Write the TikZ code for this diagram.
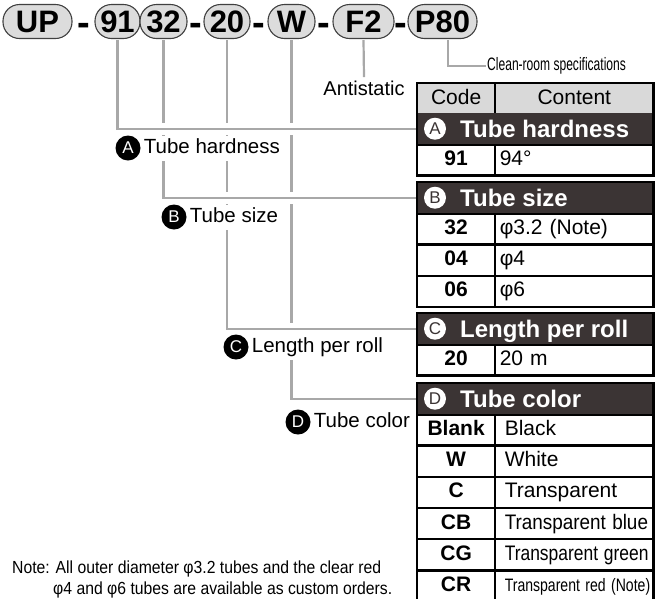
\documentclass[tikz,border=0pt]{standalone}
\usepackage{fontspec}
\setmainfont{Liberation Sans}
\usepackage{graphicx}
\usepackage{xcolor}
\usetikzlibrary{positioning}

\definecolor{pillgray}{HTML}{DCDCDC}
\definecolor{linegray}{HTML}{A8A8A8}
\definecolor{hdrdark}{HTML}{3B3434}
\definecolor{codegray}{HTML}{D9D9D9}

\newcommand{\fs}[1]{\fontsize{#1}{#1}\selectfont}

\tikzset{
  pill/.style={draw=black!75, fill=pillgray, line width=1.1pt, rounded corners=16.5pt,
    minimum height=34, inner sep=0, font=\fs{31}\bfseries},
  dashtxt/.style={inner sep=0, anchor=base, font=\fs{38}\bfseries},
  conn/.style={draw=linegray, line width=2.2pt, preaction={draw=white, line width=12pt}},
  lblcirc/.style={circle, fill=black, text=white, minimum size=25, inner sep=0, font=\fs{17}},
  lbltxt/.style={fill=white, inner xsep=2, inner ysep=3, text height=15, text depth=4, font=\fs{20.5}},
  cellc/.style={draw, line width=1.2pt, minimum width=77, minimum height=30, inner sep=0,
    text height=15, text depth=4, anchor=north west, font=\fs{21}\bfseries},
  cellt/.style={draw, line width=1.2pt, text width=149, inner xsep=4, inner ysep=0, minimum height=30,
    text height=15, text depth=4, align=left, anchor=north west, font=\fs{21}},
  celltD/.style={cellt, inner xsep=9, text width=139},
  hdr/.style={fill=hdrdark, minimum width=235, minimum height=31, inner sep=0, anchor=north west},
  hdtxt/.style={text=white, inner sep=0, anchor=base west, font=\fs{24}\bfseries},
  hdcirc/.style={circle, fill=white, text=hdrdark, minimum size=22, inner sep=0, font=\fs{17}},
  blockframe/.style={draw=black, line width=2.5pt}
}

\begin{document}
\begin{tikzpicture}[x=1pt, y=-1pt]
\useasboundingbox (0,0) rectangle (664,598);

% part number
\node[pill, minimum width=69] (pUP) at (37.5,21.5) {UP};
\node[dashtxt] (d1) at (83.5,35) {-};
\node[pill, minimum width=45] (p91) at (117.5,21.5) {91};
\node[pill, minimum width=47] (p32) at (163.5,21.5) {32};
\node[dashtxt] (d2) at (195.5,35) {-};
\node[pill, minimum width=46] (p20) at (227,21.5) {20};
\node[dashtxt] (d3) at (259,35) {-};
\node[pill, minimum width=47] (pW) at (291.5,21.5) {W};
\node[dashtxt] (d4) at (324,35) {-};
\node[pill, minimum width=61] (pF2) at (363.5,21.5) {F2};
\node[dashtxt] (d5) at (401,35) {-};
\node[pill, minimum width=69] (pP80) at (442.5,21.5) {P80};

\node[font=\fs{20}] (anti) at (364,88) {Antistatic};
\node[anchor=west, inner sep=1, font=\fs{18}] (clean) at (486,66) {\scalebox{0.67}[1]{Clean-room specifications}};

% table block A
\node[cellc, font=\fs{21}, fill=codegray] (hCode) at (417,83) {Code};
\node[cellt, align=center, fill=codegray, right=0pt of hCode] (hCont) {Content};
\node[hdr] (hdA) at (417,113) {};
\node[cellc] (a1) at (hdA.south west) {91};
\node[cellt, right=0pt of a1] (a1t) {94°};

% table block B
\node[hdr] (hdB) at (417,182) {};
\node[cellc] (b1) at (hdB.south west) {32};
\node[cellt, right=0pt of b1] (b1t) {φ3.2 (Note)};
\node[cellc] (b2) at (b1.south west) {04};
\node[cellt, right=0pt of b2] (b2t) {φ4};
\node[cellc] (b3) at (b2.south west) {06};
\node[cellt, right=0pt of b3] (b3t) {φ6};

% table block C
\node[hdr] (hdC) at (417,313) {};
\node[cellc] (c1) at (hdC.south west) {20};
\node[cellt, right=0pt of c1] (c1t) {20 m};

% table block D
\node[hdr] (hdD) at (417,383) {};
\node[cellc] (e1) at (hdD.south west) {Blank};
\node[celltD, right=0pt of e1] (e1t) {Black};
\node[cellc] (e2) at (e1.south west) {W};
\node[celltD, right=0pt of e2] (e2t) {White};
\node[cellc] (e3) at (e2.south west) {C};
\node[celltD, right=0pt of e3] (e3t) {Transparent};
\node[cellc] (e4) at (e3.south west) {CB};
\node[celltD, right=0pt of e4] (e4t) {\scalebox{0.9}[1]{Transparent blue}};
\node[cellc] (e5) at (e4.south west) {CG};
\node[celltD, right=0pt of e5] (e5t) {\scalebox{0.83}[1]{Transparent green}};
\node[cellc] (e6) at (e5.south west) {CR};
\node[celltD, right=0pt of e6] (e6t) {\fs{18}\scalebox{0.78}[1]{Transparent red (Note)}};

% connectors
\draw[conn] ([yshift=-1pt]pW.south) |- (hdD.west);
\draw[conn] ([yshift=-1pt]p20.south) |- (hdC.west);
\draw[conn] ([yshift=-1pt]p32.south) |- (hdB.west);
\draw[conn] ([yshift=-1pt]p91.south) |- (hdA.west);
\draw[conn] ([yshift=-1pt]pF2.south) -- (anti.north);
\draw[conn] ([xshift=5.5pt,yshift=-1pt]pP80.south) |- (clean.west);

% block frames
\draw[blockframe] (hCode.north west) rectangle (a1t.south east);
\draw[blockframe] (hdB.north west) rectangle (b3t.south east);
\draw[blockframe] (hdC.north west) rectangle (c1t.south east);
\draw[blockframe] (hdD.north west) rectangle (e6t.south east);

% header titles
\node[hdcirc] (hcA) at ([xshift=18pt]hdA.west) {A};
\node[hdtxt] (htA) at ([xshift=43pt,yshift=-8.6pt]hdA.west) {Tube hardness};
\node[hdcirc] (hcB) at ([xshift=18pt]hdB.west) {B};
\node[hdtxt] (htB) at ([xshift=43pt,yshift=-8.6pt]hdB.west) {Tube size};
\node[hdcirc] (hcC) at ([xshift=18pt]hdC.west) {C};
\node[hdtxt] (htC) at ([xshift=43pt,yshift=-8.6pt]hdC.west) {Length per roll};
\node[hdcirc] (hcD) at ([xshift=18pt]hdD.west) {D};
\node[hdtxt] (htD) at ([xshift=43pt,yshift=-8.6pt]hdD.west) {Tube color};

% labels
\node[lblcirc] (cA) at (128,148) {A};
\node[lbltxt, right=1pt of cA] (tA) {Tube hardness};
\node[lblcirc] (cB) at (174,217) {B};
\node[lbltxt, right=1pt of cB] (tB) {Tube size};
\node[lblcirc] (cC) at (236,347) {C};
\node[lbltxt, right=1pt of cC] (tC) {Length per roll};
\node[lblcirc] (cD) at (298,422) {D};
\node[lbltxt, right=1pt of cD] (tD) {Tube color};

% note
\node[anchor=base west, inner sep=0, font=\fs{17.5}] (note1) at (12,573) {\scalebox{0.9}[1]{Note: All outer diameter φ3.2 tubes and the clear red}};
\node[anchor=base west, inner sep=0, font=\fs{17.5}] (note2) at (53,594) {\scalebox{0.9}[1]{φ4 and φ6 tubes are available as custom orders.}};
\end{tikzpicture}
\end{document}
